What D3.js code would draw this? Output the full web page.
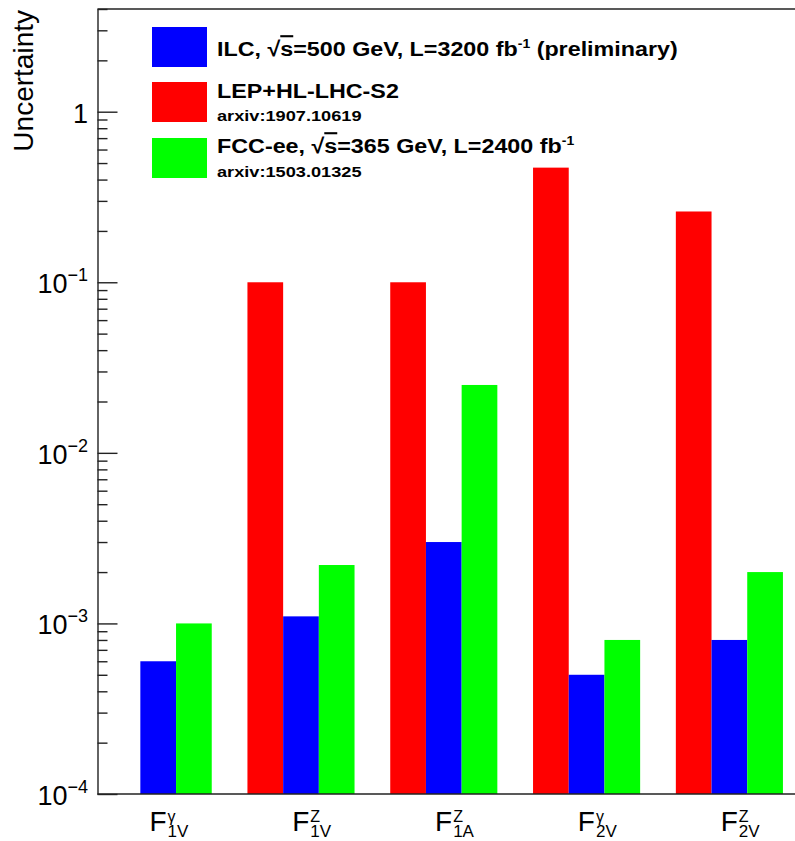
<!DOCTYPE html>
<html><head><meta charset="utf-8">
<script src="https://cdn.jsdelivr.net/npm/d3@7"></script>
<style>
body{margin:0;background:#fff}
text{font-family:"Liberation Sans",Arial,Helvetica,sans-serif;fill:#000}
</style>
</head><body>
<svg id="c" width="795" height="841"></svg>
<script>
// ---- data ----
const catMain = ["F","F","F","F","F"];
const catSup  = ["\u03b3","Z","Z","\u03b3","Z"];
const catSub  = ["1V","1V","1A","2V","2V"];
const lepValues = [null, 0.1, 0.1, 0.47, 0.26];            // LEP+HL-LHC-S2 (red)
const ilcValues = [0.0006, 0.0011, 0.003, 0.0005, 0.0008]; // ILC (blue)
const fccValues = [0.001, 0.0022, 0.025, 0.0008, 0.002];   // FCC-ee (green)
const yMajor = [1e-4, 1e-3, 1e-2, 1e-1, 1];
const yMajorBase = ["10","10","10","10","1"];
const yMajorExp  = ["\u22124","\u22123","\u22122","\u22121",""];
const yTitle = "Uncertainty";

// ---- layout ----
const svg = d3.select("#c");
const L = 97.5, R = 811.5, T = 9, B = 794;
const x = d3.scaleLinear().domain([0, catMain.length]).range([L, R]);
const y = d3.scaleLog().domain([1e-4, 4]).range([B, T]);
const barOff = 0.05, barW = 0.25;

const series = [
  {values: lepValues, color: "#ff0000"},
  {values: ilcValues, color: "#0000ff"},
  {values: fccValues, color: "#00ff00"}
];
series.forEach((s, j) => {
  svg.append("g").selectAll("rect")
    .data(s.values.map((v, i) => ({v, i})).filter(d => d.v != null))
    .join("rect")
    .attr("x", d => x(d.i + barOff + barW * j))
    .attr("width", x(barW) - x(0))
    .attr("y", d => y(d.v))
    .attr("height", d => y(1e-4) - y(d.v))
    .attr("fill", s.color);
});

// frame
const lineCol = "#222";
svg.append("line").attr("x1", L).attr("x2", 795).attr("y1", T).attr("y2", T).attr("stroke", lineCol).attr("stroke-width", 1.4);
svg.append("line").attr("x1", L).attr("x2", 795).attr("y1", B).attr("y2", B).attr("stroke", lineCol).attr("stroke-width", 1.4);

// y axis: minor ticks
const minor = [];
for (let e = -4; e <= 0; e++) for (let m = 2; m <= 9; m++) { const v = m * Math.pow(10, e); if (v <= 4) minor.push(v); }
const gMinor = svg.append("g").attr("transform", `translate(${L},0)`)
  .call(d3.axisLeft(y).tickValues(minor).tickSizeInner(-10).tickSizeOuter(0).tickFormat(""));
const gMajor = svg.append("g").attr("transform", `translate(${L},0)`)
  .call(d3.axisLeft(y).tickValues(yMajor).tickSizeInner(-20).tickSizeOuter(0).tickFormat(""));
[gMinor, gMajor].forEach(g => {
  g.selectAll("path,line").attr("stroke", lineCol).attr("stroke-width", 1.4);
});
gMinor.select(".domain").remove();

// y tick labels
yMajor.forEach((v, i) => {
  const t = svg.append("text").attr("x", 88).attr("y", y(v) + 11)
    .attr("text-anchor", "end").attr("font-size", 27);
  t.append("tspan").text(yMajorBase[i]);
  if (yMajorExp[i]) t.append("tspan").attr("dy", -12).attr("font-size", 18).text(yMajorExp[i]);
});

// y title
svg.append("text").attr("transform", `translate(33,${T + 1}) rotate(-90)`)
  .attr("text-anchor", "end").attr("font-size", 28).text(yTitle);

// x labels
catMain.forEach((m, i) => {
  const g = svg.append("g");
  const f = g.append("text").attr("x", 0).attr("y", 831).attr("font-size", 28).text(m);
  const fw = f.node().getComputedTextLength();
  const sp = g.append("text").attr("x", fw + 1).attr("y", 822).attr("font-size", 16).text(catSup[i]);
  const sb = g.append("text").attr("x", fw + 1).attr("y", 837).attr("font-size", 17).text(catSub[i]);
  const w = fw + 1 + Math.max(sp.node().getComputedTextLength(), sb.node().getComputedTextLength());
  g.attr("transform", `translate(${x(i + 0.5) - w / 2},0)`);
});

// legend
const legItems = [
  {color: "#0000ff", boxY: 27},
  {color: "#ff0000", boxY: 82},
  {color: "#00ff00", boxY: 138}
];
legItems.forEach(d => {
  svg.append("rect").attr("x", 152).attr("y", d.boxY).attr("width", 55).attr("height", 40).attr("fill", d.color);
});
const lx = 217, lfs = 21, sx = 1.11;
function legLine(yb, parts, fs, scaleX) {
  const t = svg.append("text").attr("x", 0).attr("y", 0)
    .attr("transform", `translate(${lx},${yb}) scale(${scaleX},1)`)
    .attr("font-size", fs).attr("font-weight", "bold");
  parts.forEach(p => {
    const s = t.append("tspan").text(p.t);
    if (p.sup) s.attr("dy", -8).attr("font-size", fs * 0.6);
    if (p.back) s.attr("dy", 8);
    if (p.over) s.style("text-decoration", "overline");
  });
  return t;
}
legLine(56, [{t: "ILC,  \u221a"}, {t: "s", over: true}, {t: "=500 GeV, L=3200 fb"}, {t: "-1", sup: true}, {t: " (preliminary)", back: true}], lfs, sx);
legLine(98, [{t: "LEP+HL-LHC-S2"}], lfs, sx);
legLine(121, [{t: "arxiv:1907.10619"}], 14, 1.3);
legLine(153, [{t: "FCC-ee,  \u221a"}, {t: "s", over: true}, {t: "=365 GeV, L=2400 fb"}, {t: "-1", sup: true}], lfs, sx);
legLine(177, [{t: "arxiv:1503.01325"}], 14, 1.3);
</script>
</body></html>
